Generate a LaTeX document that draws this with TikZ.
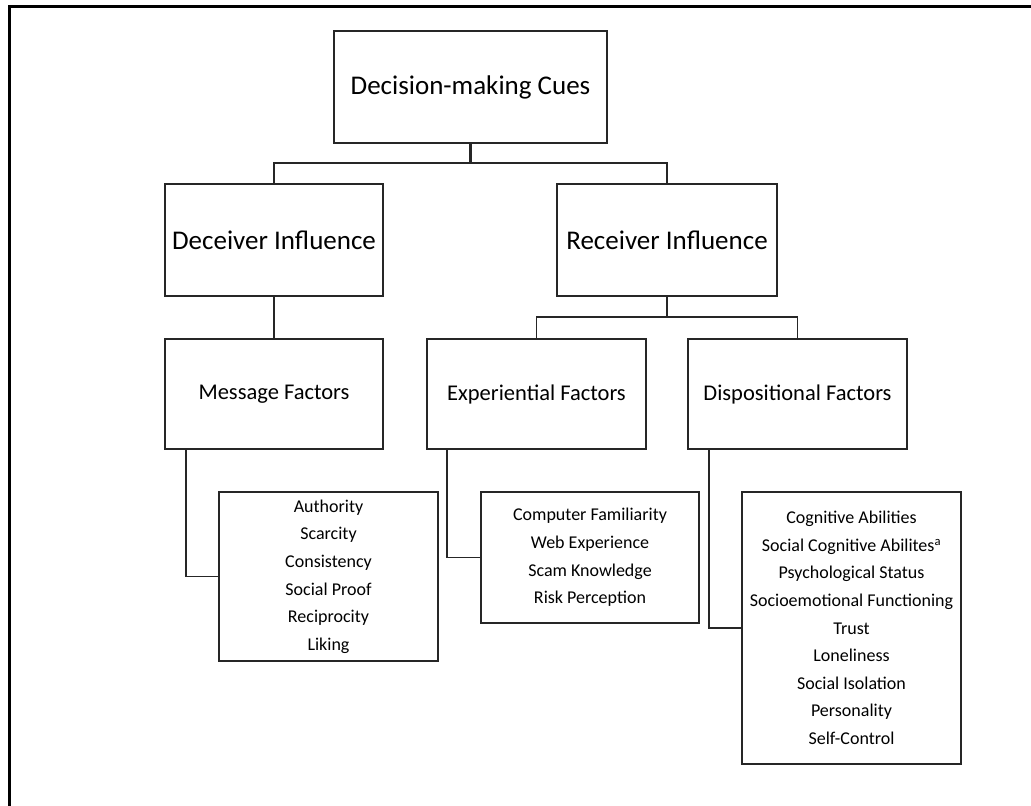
\documentclass[tikz,border=0pt]{standalone}
\usepackage{fontspec}
\setmainfont{Carlito}
\begin{document}
\begin{tikzpicture}[x=1pt,y=-1pt,
  box/.style={draw=black!85, line width=1.8pt, rectangle, inner sep=0pt, align=center, text=black},
  big/.style={box, font=\fontsize{27}{32}\selectfont},
  mid/.style={box, font=\fontsize{22.5}{27}\selectfont},
  list/.style={box, font=\fontsize{18}{27.6}\selectfont},
  link/.style={draw=black!85, line width=1.9pt},
  frame/.style={draw=black, line width=3.5pt}]
\useasboundingbox (0,0) rectangle (1031,806);
\fill[white] (0,0) rectangle (1031,806);
% page frame
\draw[frame] (1031,6.7) -- (9.5,6.7) -- (9.5,806);

% tree nodes
\node[big, minimum width=273pt, minimum height=112pt] (top) at (470.5,87) {Decision-making Cues};
\node[big, minimum width=218pt, minimum height=112pt] (dec) at (274,240) {Deceiver Influence};
\node[big, minimum width=220pt, minimum height=112pt] (rec) at (667,240) {Receiver Influence};
\node[mid, minimum width=218pt, minimum height=110pt] (msg) at (274,394) {Message Factors};
\node[mid, minimum width=219pt, minimum height=110pt] (exp) at (536.5,394) {Experiential Factors};
\node[mid, minimum width=219pt, minimum height=110pt] (dis) at (797.5,394) {Dispositional Factors};

% lists of factors
\node[list, minimum width=219pt, minimum height=169pt] (msgL) at (328.5,576.5)
  {Authority\\Scarcity\\Consistency\\Social Proof\\Reciprocity\\Liking};
\node[list, minimum width=218pt, minimum height=131pt] (expL) at (590,557.5)
  {Computer Familiarity\\Web Experience\\Scam Knowledge\\Risk Perception};
\node[list, minimum width=219pt, minimum height=272pt] (disL) at (851.5,628)
  {Cognitive Abilities\\Social Cognitive Abilites\textsuperscript{a}\\Psychological Status\\Socioemotional Functioning\\Trust\\Loneliness\\Social Isolation\\Personality\\Self-Control};

% junctions
\coordinate (j1) at (470.5,163);
\coordinate (j2) at (667,317);

% connectors
\draw[link, line width=2.4pt] (top.south) -- (j1);
\draw[link] (dec.north) |- (j1) -| (rec.north);
\draw[link] (dec.south) -- (msg.north);
\draw[link, line width=2.4pt] (rec.south) -- (j2);
\draw[link] (exp.north) |- (j2) -| (dis.north);
\draw[link] ([xshift=22pt]msg.south west) |- (msgL.west);
\draw[link] ([xshift=21pt]exp.south west) |- (expL.west);
\draw[link] ([xshift=21.5pt]dis.south west) |- (disL.west);
\end{tikzpicture}
\end{document}
